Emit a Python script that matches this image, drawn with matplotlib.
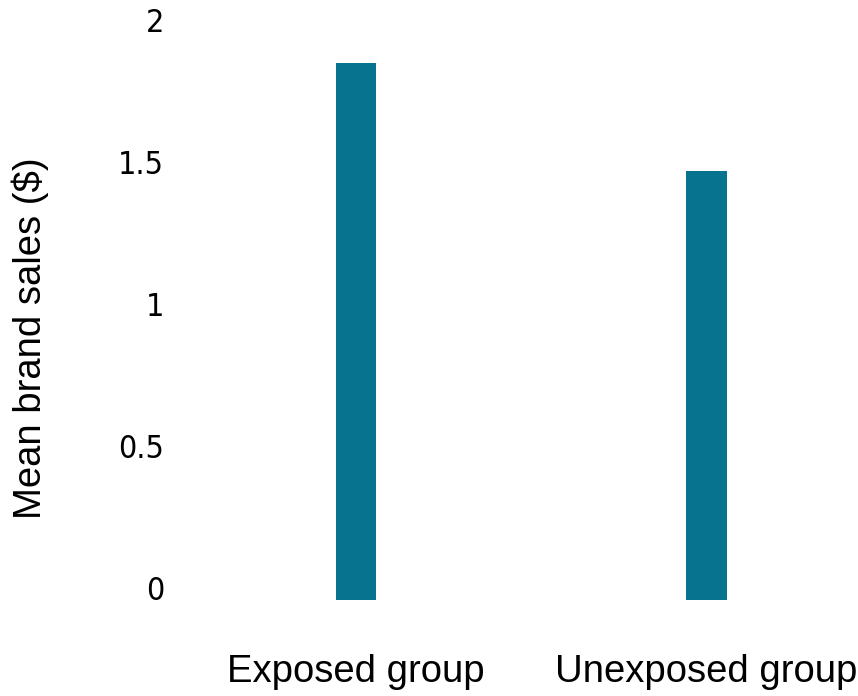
import matplotlib
matplotlib.use("Agg")
import matplotlib.pyplot as plt
from matplotlib import font_manager

# data
groups = ["Exposed group", "Unexposed group"]
mean_sales = [1.89, 1.51]
y_ticks = [0, 0.5, 1, 1.5, 2]
y_tick_labels = ["0", "0.5", "1", "1.5", "2"]

bar_color = "#07738f"

# narrow face for the y tick numbers, if one is around
names = {f.name for f in font_manager.fontManager.ttflist}
narrow = [n for n in ["Liberation Sans Narrow", "DejaVu Sans Condensed"] if n in names]
tick_family = narrow + ["DejaVu Sans"]
label_family = ["Liberation Sans", "DejaVu Sans"]

fig = plt.figure(figsize=(8.58, 6.96), dpi=100)
ax = fig.add_axes([0.204, 0.138, 0.796, 0.816])

x = list(range(len(groups)))
ax.bar(x, mean_sales, width=0.117, color=bar_color)

ax.set_xlim(-0.517, 1.434)
ax.set_ylim(0, 2)

ax.set_xticks(x)
ax.set_xticklabels(groups, fontsize=27.5, fontfamily=label_family)
ax.set_yticks(y_ticks)
ax.set_yticklabels(y_tick_labels, fontsize=23, fontfamily=tick_family,
                   fontstretch="condensed")
for lbl in ax.get_yticklabels():
    lbl.set_verticalalignment("baseline")

ax.tick_params(axis="x", length=0, pad=39)
ax.tick_params(axis="y", length=0, pad=8)
for s in ax.spines.values():
    s.set_visible(False)

ax.set_ylabel("Mean brand sales ($)", fontsize=27.5, fontfamily=label_family)
ax.yaxis.set_label_coords(-0.185, 0.461)

fig.savefig("out.png", dpi=100)
